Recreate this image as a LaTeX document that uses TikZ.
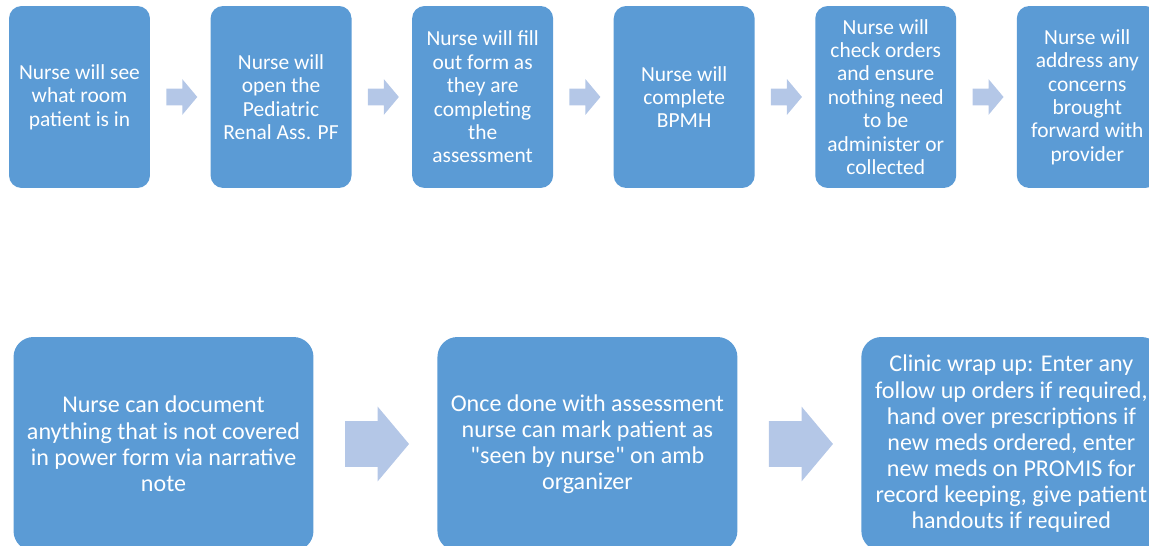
\documentclass[tikz,border=0pt]{standalone}
\usepackage{fontspec}
\setmainfont{Carlito}[Ligatures=TeXOff]
\usepackage{tikz}
\usetikzlibrary{shapes.arrows}

\definecolor{stepblue}{HTML}{5B9BD5}
\definecolor{arrowblue}{HTML}{B4C7E7}

\begin{document}
\begin{tikzpicture}[
		x=0.02cm,
		y=0.02cm,
		every node/.style={
			text=white,
			align=center,
			inner sep=0pt
		},
		stage/.style={
			fill=stepblue,
			rounded corners=0.25cm,
			minimum height=3.64cm,
			minimum width=2.82cm,
			font=\fontsize{12.2}{13.3}\selectfont
		},
		widestage/.style={
			fill=stepblue,
			rounded corners=0.4cm,
			minimum height=4.28cm,
			minimum width=6cm,
			font=\fontsize{13.7}{14.9}\selectfont
		},
		flow/.style={
			single arrow,
			fill=arrowblue,
			minimum height=0.62cm,
			inner ysep=0.16cm,
			single arrow head extend=0.19cm,
			single arrow tip angle=100
		},
		bigflow/.style={
			single arrow,
			fill=arrowblue,
			minimum height=1.28cm,
			inner ysep=0.45cm,
			single arrow head extend=0.29cm,
			single arrow tip angle=100
		}]

		\useasboundingbox (0,0) rectangle (1149,546);

		%top row
		\node[stage] at (79.5,449) (a1) {Nurse will see\\what room\\patient is in};
		\node[flow, right of=a1, node distance=1.976cm] (r1) {};
		\node[stage, right of=r1, node distance=2.056cm] (a2) {Nurse will\\open the\\Pediatric\\Renal Ass. PF};
		\node[flow, right of=a2, node distance=1.976cm] (r2) {};
		\node[stage, right of=r2, node distance=2.056cm] (a3) {Nurse will fill\\out form as\\they are\\completing\\the\\assessment};
		\node[flow, right of=a3, node distance=1.976cm] (r3) {};
		\node[stage, right of=r3, node distance=2.056cm] (a4) {Nurse will\\complete\\BPMH};
		\node[flow, right of=a4, node distance=1.976cm] (r4) {};
		\node[stage, right of=r4, node distance=2.056cm] (a5) {Nurse will\\check orders\\and ensure\\nothing need\\to be\\administer or\\collected};
		\node[flow, right of=a5, node distance=1.976cm] (r5) {};
		\node[stage, right of=r5, node distance=2.056cm] (a6) {Nurse will\\address any\\concerns\\brought\\forward with\\provider};

		%bottom row
		\node[widestage] at (163.5,102) (b1) {Nurse can document\\anything that is not covered\\in power form via narrative\\note};
		\node[bigflow, right of=b1, node distance=4.08cm] (s1) {};
		\node[widestage, right of=s1, node distance=4.40cm] (b2) {Once done with assessment\\nurse can mark patient as\\"seen by nurse" on amb\\organizer};
		\node[bigflow, right of=b2, node distance=4.08cm] (s2) {};
		\node[widestage, right of=s2, node distance=4.40cm] (b3) {Clinic wrap up: Enter any\\follow up orders if required,\\hand over prescriptions if\\new meds ordered, enter\\new meds on PROMIS for\\record keeping, give patient\\handouts if required};

	\end{tikzpicture}
\end{document}
